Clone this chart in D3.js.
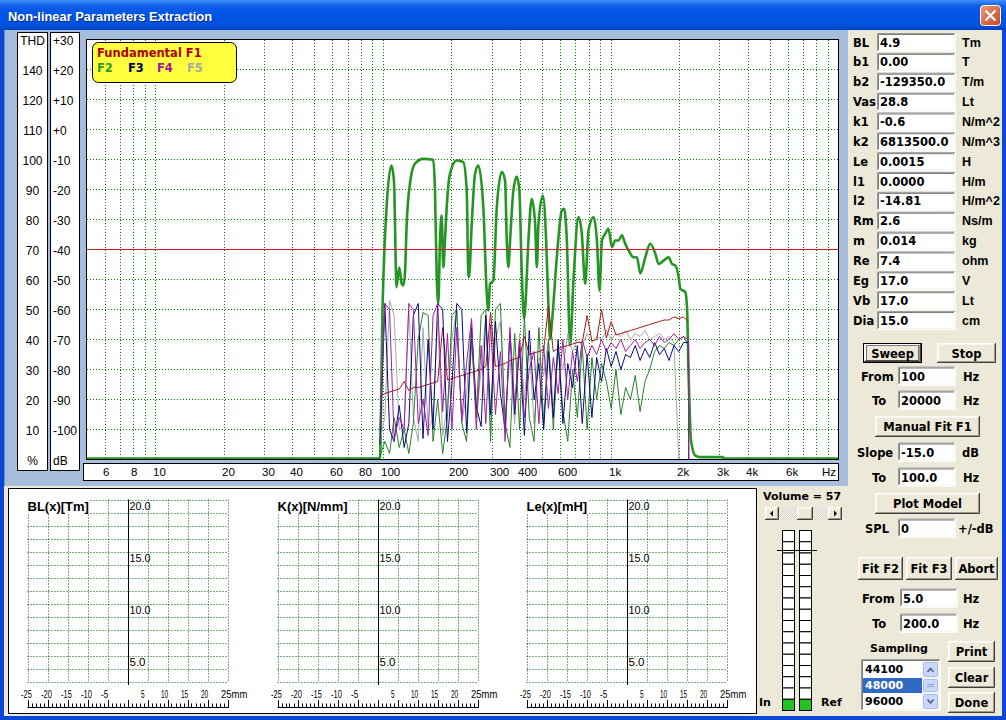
<!DOCTYPE html>
<html><head><meta charset="utf-8">
<script src="https://cdn.jsdelivr.net/npm/d3@7/dist/d3.min.js"></script>
<style>
html,body{margin:0;padding:0;background:#ece9d8;overflow:hidden}
svg{display:block}
</style></head><body>
<svg id="app" width="1006" height="720"></svg>
<script>
// ================= DATA =================
const freqGrid = [6,7,8,9,10,20,30,40,50,60,70,80,90,100,200,300,400,500,600,700,800,900,1000,2000,3000,4000,5000,6000,7000,8000,9000];
const freqTicks = [6,8,10,20,30,40,60,80,100,200,300,400,600,1000,2000,3000,4000,6000];
const freqTickLabels = ["6","8","10","20","30","40","60","80","100","200","300","400","600","1k","2k","3k","4k","6k"];
const dbTicks = [30,20,10,0,-10,-20,-30,-40,-50,-60,-70,-80,-90,-100,-110];
const dbTickLabels = ["+30","+20","+10","+0","-10","-20","-30","-40","-50","-60","-70","-80","-90","-100","dB"];
const thdTickLabels = ["THD","140","120","110","100","90","80","70","60","50","40","30","20","10","%"];

// Fundamental F1 (reference level)
const f1Freq = [5, 10000];
const f1dB = [-40, -40];

// F2 (thick green)
const f2Freq = [5,96,97,99.7,103.8,109,111.8,114,114.6,118,120.9,122.9,125,127.2,131.5,138.3,150.4,166.4,169.3,172.2,175.1,178.1,181.1,184.2,187.3,190.6,197,210.9,225.4,233.4,237.1,238.8,245.5,253.8,262.4,276,285.8,290.4,295.4,305.5,316.2,332.6,343.9,349.8,355.6,361.7,374.1,387.1,397.2,407.2,416.8,421,435.3,450.5,465.9,474,481.8,503.7,520.8,533,542,551.5,580,610,624.7,642,663.7,686.4,722,747,772.7,799,840.6,869.9,893.2,915.1,946,978,1012,1047,1082,1120,1158,1198,1260,1304,1349,1418,1492,1570,1623,1707,1796,1858,1921,1987,2022,2126,2163,2198,2252,2352,2475,3100,3150,10000];
const f2dB = [-109.7,-109.7,-109.7,-59,-26,-12,-17,-46,-52.6,-46,-51.4,-52,-48,-31.5,-18,-11.4,-9.8,-10.1,-20.3,-48,-58,-37,-28.7,-46,-37,-26,-14.8,-10.3,-10.9,-20.3,-48,-49.2,-31.5,-14.8,-12,-26,-54.8,-60.3,-51.4,-50.3,-26,-14.2,-17,-37,-45.9,-37,-20.3,-15.7,-20.3,-48,-63,-60,-37,-23.1,-31.5,-45.9,-31.5,-22,-37,-59,-70,-64.8,-42.6,-27,-26.4,-37,-72,-50.3,-29.2,-34.8,-51.4,-33.7,-29.2,-37,-53.7,-37,-34.8,-33.1,-39.2,-37,-37,-35.3,-38.1,-40.3,-42.6,-42.6,-48,-42.6,-38.1,-41.4,-44.8,-43.7,-42.6,-44.8,-45.3,-49.2,-53.1,-54.2,-59.2,-81.4,-103.7,-108.7,-109.2,-109.2,-109.7,-109.7];

// measured harmonic traces (thin lines), common frequency points
const thinFreq = [97,102,107,112,118,124,130,136,143,150,158,166,174,183,192,201,211,222,233,245,257,270,283,297,312,328,344,361,379,398,418,439,461,484,508,533,560,588,617,648,680,714,750,788,827,868,912,957,1005,1055,1108,1163,1221,1282,1346,1414,1484,1559,1637,1718,1804,1895,1990,2089,2193,2200];
const f2mDB = [-109,-104,-108,-96,-106,-100,-108,-98,-70,-61,-62,-104,-90,-108,-96,-62,-60,-98,-104,-70,-96,-62,-60,-104,-60,-58,-98,-106,-68,-100,-62,-96,-104,-66,-98,-70,-100,-72,-94,-104,-80,-96,-72,-100,-76,-90,-78,-84,-93,-80,-95,-86,-90,-82,-94,-84,-80,-74,-72,-73,-71,-72,-70,-69,-72,-110];
const f3DB = [-105,-58,-100,-104,-92,-106,-98,-62,-58,-103,-70,-100,-58,-60,-104,-85,-58,-60,-101,-66,-92,-99,-62,-95,-64,-88,-100,-68,-95,-72,-102,-67,-90,-78,-100,-74,-96,-70,-98,-78,-86,-72,-98,-75,-96,-76,-84,-73,-79,-74,-80,-75,-76,-72,-77,-73,-76,-71,-75,-73,-77,-72,-74,-71,-71,-110];
const f4DB = [-100,-58,-60,-103,-96,-100,-58,-60,-98,-90,-102,-62,-58,-94,-68,-100,-66,-97,-78,-63,-100,-72,-98,-65,-95,-74,-104,-66,-92,-70,-96,-80,-74,-98,-72,-93,-76,-88,-70,-90,-74,-84,-70,-76,-72,-75,-70,-74,-71,-73,-70,-74,-72,-70,-73,-71,-70,-72,-69,-71,-70,-68,-70,-69,-70,-110];
const f5DB = [-104,-96,-57,-62,-100,-98,-58,-96,-104,-66,-100,-96,-64,-102,-92,-70,-60,-98,-88,-64,-96,-80,-62,-100,-70,-64,-96,-76,-98,-68,-90,-72,-98,-76,-82,-70,-92,-74,-80,-68,-74,-70,-72,-68,-71,-69,-70,-67,-70,-68,-69,-67,-70,-68,-69,-67,-70,-69,-68,-70,-69,-71,-110,-110,-110,-110];
const fdDB = [-89,-88,-87.5,-87,-86.5,-84,-87,-86,-86,-85.5,-85,-84.5,-84,-66,-83.5,-83,-82.5,-82,-81.5,-81,-80.5,-80,-79,-61,-79,-78.5,-78,-77,-76.5,-76,-69,-75,-74.5,-74,-73.5,-59,-74,-73,-72.5,-72,-71.5,-71,-71,-62,-70.5,-70,-60,-69.5,-64,-68.5,-68,-67.5,-67,-66.5,-66,-65.5,-65,-64.5,-64,-63.5,-63.5,-62.5,-63,-62.5,-64,null];

// parameter panel
const paramNames = ["BL","b1","b2","Vas","k1","k2","Le","l1","l2","Rm","m","Re","Eg","Vb","Dia"];
const paramValues = ["4.9","0.00","-129350.0","28.8","-0.6","6813500.0","0.0015","0.0000","-14.81","2.6","0.014","7.4","17.0","17.0","15.0"];
const paramUnits = ["Tm","T","T/m","Lt","N/m^2","N/m^3","H","H/m","H/m^2","Ns/m","kg","ohm","V","Lt","cm"];

// small displacement charts
const miniTitles = ["BL(x)[Tm]","K(x)[N/mm]","Le(x)[mH]"];
const miniXTicks = [-25,-20,-15,-10,-5,5,10,15,20,25];
const miniXLabels = ["-25","-20","-15","-10","-5","5","10","15","20","25mm"];
const miniYTicks = [20,15,10,5];
const miniYLabels = ["20.0","15.0","10.0","5.0"];
const samplingRates = ["44100","48000","96000"];

// ================= HELPERS =================
const SANS = '"Liberation Sans", Arial, sans-serif';
const WIDE = '"DejaVu Sans", Verdana, sans-serif';
const svg = d3.select("#app");
const defs = svg.append("defs");

function T(g, x, y, s, o = {}) {
  const t = g.append("text").attr("x", x).attr("y", y).text(s)
    .attr("font-family", o.font || SANS).attr("font-size", o.size || 12)
    .attr("font-weight", o.bold ? "bold" : "normal")
    .attr("fill", o.fill || "#000").attr("text-anchor", o.anchor || "start");
  if (o.len) t.attr("textLength", o.len).attr("lengthAdjust", "spacingAndGlyphs");
  return t;
}
function R(g, x, y, w, h, fill, stroke, sw) {
  const r = g.append("rect").attr("x", x).attr("y", y).attr("width", w).attr("height", h).attr("fill", fill || "none");
  if (stroke) r.attr("stroke", stroke).attr("stroke-width", sw || 1);
  return r;
}
function P(g, d, stroke, sw, dash) {
  const p = g.append("path").attr("d", d).attr("fill", "none").attr("stroke", stroke).attr("stroke-width", sw || 1);
  if (dash) p.attr("stroke-dasharray", dash);
  return p;
}
function bevel(g, x, y, w, h, up, fill) {
  R(g, x, y, w, h, fill);
  const c = up ? ["#ffffff", "#404040", "#f7f6f0", "#9d9a8c"] : ["#9c9c9c", "#ffffff", "#7a7a7a", "#f4f3ee"];
  P(g, `M${x+.5},${y+h-1}V${y+.5}H${x+w-1}`, c[0]);
  P(g, `M${x},${y+h-.5}H${x+w-.5}V${y}`, c[1]);
  P(g, `M${x+1.5},${y+h-2}V${y+1.5}H${x+w-2}`, c[2]);
  P(g, `M${x+1},${y+h-1.5}H${x+w-1.5}V${y+1}`, c[3]);
}
function button(g, x, y, w, h, label, o = {}) {
  if (o.def) { R(g, x+.5, y+.5, w-1, h-1, "#ece9d8", "#000"); bevel(g, x+1, y+1, w-2, h-2, true, "#ece9d8"); }
  else bevel(g, x, y, w, h, true, "#ece9d8");
  T(g, x + w/2, y + h/2 + 4.5, label, {font: WIDE, bold: true, size: 11.5, anchor: "middle"});
  if (o.focus) R(g, x+3.5, y+2.5, w-7, h-5, "none", "#000").attr("stroke-dasharray", "1,1");
}

// ================= WINDOW =================
R(svg, 0, 0, 1006, 720, "#ece9d8");
const tg = defs.append("linearGradient").attr("id", "tb").attr("x1", 0).attr("y1", 0).attr("x2", 0).attr("y2", 1);
[[0,"#3d8ff7"],[0.1,"#2877f0"],[0.2,"#0c5de8"],[0.5,"#0055e6"],[0.85,"#0152dd"],[1,"#0141c0"]].forEach(s => tg.append("stop").attr("offset", s[0]).attr("stop-color", s[1]));
R(svg, 0, 0, 1006, 30, "url(#tb)");
R(svg, 0, 30, 4, 690, "#0a47d6");
R(svg, 1002, 30, 4, 690, "#0a47d6");
R(svg, 0, 716, 1006, 4, "#0a47d6");
T(svg, 9, 22, "Non-linear Parameters Extraction", {bold: true, size: 13, fill: "#0a2a7a", len: 204});
T(svg, 8, 21, "Non-linear Parameters Extraction", {bold: true, size: 13, fill: "#ffffff", len: 204});
const cg = defs.append("linearGradient").attr("id", "cbg").attr("x1", 0).attr("y1", 0).attr("x2", 1).attr("y2", 1);
cg.append("stop").attr("offset", 0).attr("stop-color", "#f09a7c");
cg.append("stop").attr("offset", 1).attr("stop-color", "#c7441c");
R(svg, 980.5, 5.5, 20, 20, "url(#cbg)", "#ffffff").attr("rx", 3);
P(svg, "M985.5,10.5L995.5,20.5M995.5,10.5L985.5,20.5", "#ffffff", 2.2);

// blue chart panel
R(svg, 4, 30, 844, 456, "#a6bedc");
P(svg, "M4.5,486V30", "#6f8fc2");

// ================= MAIN CHART =================
const x = d3.scaleLog().domain([5, 10000]).range([86.5, 838.5]);
const y = d3.scaleLinear().domain([-110, 30]).range([459.5, 39.5]);
const main = svg.append("g");

R(main, 17.5, 32.5, 30, 438, "#fff", "#000");
R(main, 50.5, 32.5, 29, 438, "#fff", "#000");
dbTicks.forEach((d, i) => {
  T(main, 32.5, y(d) + 5, thdTickLabels[i], {anchor: "middle"});
  T(main, 53, y(d) + 5, dbTickLabels[i]);
});

R(main, 86.5, 39.5, 752, 420, "#fff", "#000");
// grid
main.selectAll("line.vg").data(freqGrid).enter().append("line")
  .attr("x1", d => Math.round(x(d)) + .5).attr("x2", d => Math.round(x(d)) + .5)
  .attr("y1", 40).attr("y2", 459).attr("stroke", "#007a00").attr("stroke-dasharray", "1,2");
main.selectAll("line.hg").data(dbTicks.filter(d => d < 30 && d > -110 && d !== -40)).enter().append("line")
  .attr("x1", 87).attr("x2", 838).attr("y1", d => y(d)).attr("y2", d => y(d))
  .attr("stroke", "#007a00").attr("stroke-dasharray", "1,2");

// x axis label strip
R(main, 83.5, 463.5, 755, 17, "#fff", "#000");
freqTicks.forEach((f, i) => T(main, Math.round(x(f)) - 2, 476, freqTickLabels[i], {size: 11.5}));
T(main, 822, 476, "Hz", {size: 11.5});

// curves
defs.append("clipPath").attr("id", "plotclip").append("rect").attr("x", 87).attr("y", 40).attr("width", 751).attr("height", 419);
const curves = main.append("g").attr("clip-path", "url(#plotclip)");
const lineGen = d3.line().defined(d => d[1] != null).x(d => x(d[0])).y(d => y(d[1]));
const smoothGen = d3.line().x(d => x(d[0])).y(d => y(d[1])).curve(d3.curveMonotoneX);
const zip = (fs, vs) => fs.map((f, i) => [f, vs[i]]);

const thinSeries = [
  {v: f5DB, c: "#a9a9a9"},
  {v: f2mDB, c: "#2a7f2a"},
  {v: fdDB, c: "#a81818"},
  {v: f3DB, c: "#0a0a80"},
  {v: f4DB, c: "#a21ea2"}
];
curves.append("path").datum(zip(f2Freq, f2dB)).attr("d", smoothGen)
  .attr("fill", "none").attr("stroke", "#259525").attr("stroke-width", 2.6).attr("stroke-linejoin", "round");
thinSeries.forEach(s => curves.append("path").datum(zip(thinFreq, s.v)).attr("d", lineGen)
  .attr("fill", "none").attr("stroke", s.c).attr("stroke-width", 1));
curves.append("path").datum(zip(f1Freq, f1dB)).attr("d", lineGen)
  .attr("fill", "none").attr("stroke", "#cc2222").attr("stroke-width", 1);

// legend
R(main, 92.5, 42.5, 144, 40, "#ffff40", "#000").attr("rx", 6);
T(main, 97, 57, "Fundamental F1", {font: WIDE, bold: true, size: 11.5, fill: "#b00000"});
[["F2", 97, "#2a9a2a"], ["F3", 128, "#000050"], ["F4", 157, "#a0189c"], ["F5", 187, "#a8a8a8"]]
  .forEach(d => T(main, d[1], 72, d[0], {font: WIDE, bold: true, size: 11.5, fill: d[2]}));

// ================= RIGHT PANEL =================
const rp = svg.append("g");
paramNames.forEach((n, i) => {
  const cy = 42 + 19.86 * i;
  T(rp, 853, cy + 4.5, n, {font: WIDE, bold: true, size: 11.5});
  bevel(rp, 877, cy - 9, 79, 19, false, "#fff");
  T(rp, 880, cy + 4.5, paramValues[i], {font: WIDE, bold: true, size: 11.5});
  T(rp, 962, cy + 4.5, paramUnits[i], {bold: true, size: 12.5});
});
button(rp, 863, 343, 59, 20, "Sweep", {def: true, focus: true});
button(rp, 937, 343, 59, 20, "Stop");
function field(label, lx, cy, fx, fw, val, unit, ux) {
  T(rp, lx, cy + 4.5, label, {font: WIDE, bold: true, size: 11.5});
  bevel(rp, fx, cy - 9.5, fw, 19, false, "#fff");
  T(rp, fx + 3, cy + 4.5, val, {font: WIDE, bold: true, size: 11.5});
  T(rp, ux, cy + 4.5, unit, {font: WIDE, bold: true, size: 11.5});
}
field("From", 861, 376, 898, 58, "100", "Hz", 963);
field("To", 872, 400, 898, 58, "20000", "Hz", 963);
button(rp, 875, 416, 105, 21, "Manual Fit F1");
field("Slope", 857, 452, 898, 58, "-15.0", "dB", 962);
field("To", 872, 477, 898, 58, "100.0", "Hz", 963);
button(rp, 875, 493, 105, 21, "Plot Model");
field("SPL", 865, 528, 898, 58, "0", "+/-dB", 958);
button(rp, 858, 557, 45, 23, "Fit F2");
button(rp, 906, 557, 46, 23, "Fit F3");
button(rp, 955, 557, 43, 23, "Abort");
field("From", 862, 598, 900, 58, "5.0", "Hz", 963);
field("To", 872, 623, 900, 58, "200.0", "Hz", 963);
T(rp, 899, 652, "Sampling", {font: WIDE, bold: true, size: 11, anchor: "middle"});
button(rp, 948, 641, 47, 21, "Print");
button(rp, 948, 667, 47, 21, "Clear");
button(rp, 948, 692, 47, 21, "Done");
// listbox
bevel(rp, 861, 659, 80, 52, false, "#fff");
R(rp, 863, 678, 59, 15, "#316ac5");
samplingRates.forEach((s, i) => T(rp, 865, 673 + 16 * i, s, {font: WIDE, bold: true, size: 11, fill: i === 1 ? "#fff" : "#000"}));
R(rp, 922, 661, 17, 48, "#f3f3ee");
[[923, 662, 15, 15], [923, 679, 15, 13], [923, 694, 15, 15]].forEach(b => R(rp, b[0] + .5, b[1] + .5, b[2] - 1, b[3] - 1, "#c8d7fb", "#a9bde8").attr("rx", 2));
P(rp, "M927.5,672L930.5,668.5L933.5,672", "#4d6185", 1.6);
P(rp, "M927.5,699.5L930.5,703L933.5,699.5", "#4d6185", 1.6);
P(rp, "M927,684.5H934M927,686.5H934", "#8ea6d8", 1);

// volume
T(rp, 763, 500, "Volume = 57", {font: WIDE, bold: true, size: 11});
const pat = defs.append("pattern").attr("id", "chk").attr("width", 2).attr("height", 2).attr("patternUnits", "userSpaceOnUse");
pat.append("rect").attr("width", 2).attr("height", 2).attr("fill", "#f4f3ee");
pat.append("rect").attr("width", 1).attr("height", 1).attr("fill", "#d8d5c8");
pat.append("rect").attr("x", 1).attr("y", 1).attr("width", 1).attr("height", 1).attr("fill", "#d8d5c8");
R(rp, 765, 507, 77, 13, "url(#chk)");
bevel(rp, 765, 507, 14, 13, true, "#ece9d8");
bevel(rp, 797, 507, 16, 13, true, "#ece9d8");
bevel(rp, 828, 507, 14, 13, true, "#ece9d8");
rp.append("path").attr("d", "M770,513.5L773,510.5V516.5Z").attr("fill", "#000");
rp.append("path").attr("d", "M837,513.5L834,510.5V516.5Z").attr("fill", "#000");
[782, 799].forEach(mx => {
  for (let k = 0; k < 16; k++) R(rp, mx + .5, 530.5 + k * 11.25, 12, 11.25, k === 15 ? "#22c322" : "#fff", "#000");
});
P(rp, "M777,550.5H817", "#000");
T(rp, 759, 706, "In", {font: WIDE, bold: true, size: 11});
T(rp, 821, 706, "Ref", {font: WIDE, bold: true, size: 11});

// ================= BOTTOM CHARTS =================
const bp = svg.append("g");
R(bp, 8.5, 488.5, 748, 225, "#fff", "#000");
miniTitles.forEach((title, ci) => {
  const off = [0, 250, 499][ci];
  const mx = d3.scaleLinear().domain([-25, 25]).range([27.5 + off, 227.5 + off]);
  const my = d3.scaleLinear().domain([2.5, 20]).range([681.5, 499.5]);
  const g = bp.append("g");
  const hVals = d3.range(15).map(k => 2.5 + 1.25 * k);
  g.selectAll("line.h").data(hVals).enter().append("line")
    .attr("x1", mx(-25)).attr("x2", mx(25)).attr("y1", d => Math.round(my(d)) + .5).attr("y2", d => Math.round(my(d)) + .5)
    .attr("stroke", "#005a00").attr("stroke-dasharray", "1,2");
  g.selectAll("line.v").data([-25,-20,-15,-10,-5,5,10,15,20,25]).enter().append("line")
    .attr("x1", d => Math.round(mx(d)) + .5).attr("x2", d => Math.round(mx(d)) + .5)
    .attr("y1", my(20)).attr("y2", my(2.5)).attr("stroke", "#005a00").attr("stroke-dasharray", "1,2");
  g.append("line").attr("x1", Math.round(mx(0)) + .5).attr("x2", Math.round(mx(0)) + .5).attr("y1", my(20)).attr("y2", 685).attr("stroke", "#000");
  miniYTicks.forEach((v, i) => T(g, mx(0) + 2, my(v) + 10, miniYLabels[i], {size: 11, len: 21 - (i === 3 ? 5 : 0)}));
  miniXTicks.forEach((v, i) => {
    const lab = miniXLabels[i];
    const t = T(g, Math.round(mx(v)) - 7, 698, lab, {size: 11});
    t.attr("textLength", lab.length * 3.6 + (lab.indexOf("mm") >= 0 ? 12 : 0)).attr("lengthAdjust", "spacingAndGlyphs");
  });
  // ruler
  g.append("line").attr("x1", mx(-25)).attr("x2", mx(25) + 1).attr("y1", 707.5).attr("y2", 707.5).attr("stroke", "#000");
  g.selectAll("line.tk").data(d3.range(-25, 26)).enter().append("line")
    .attr("x1", d => Math.round(mx(d)) + .5).attr("x2", d => Math.round(mx(d)) + .5)
    .attr("y1", d => d % 5 === 0 ? 700 : 703.5).attr("y2", 708).attr("stroke", "#000");
  // title
  const tt = T(g, mx(-25), 511, title, {bold: true, size: 13});
  const bb = tt.node().getBBox();
  g.insert("rect", "text").attr("x", bb.x - 1).attr("y", 498).attr("width", bb.width + 2).attr("height", 16).attr("fill", "#fff");
});
</script></body></html>
